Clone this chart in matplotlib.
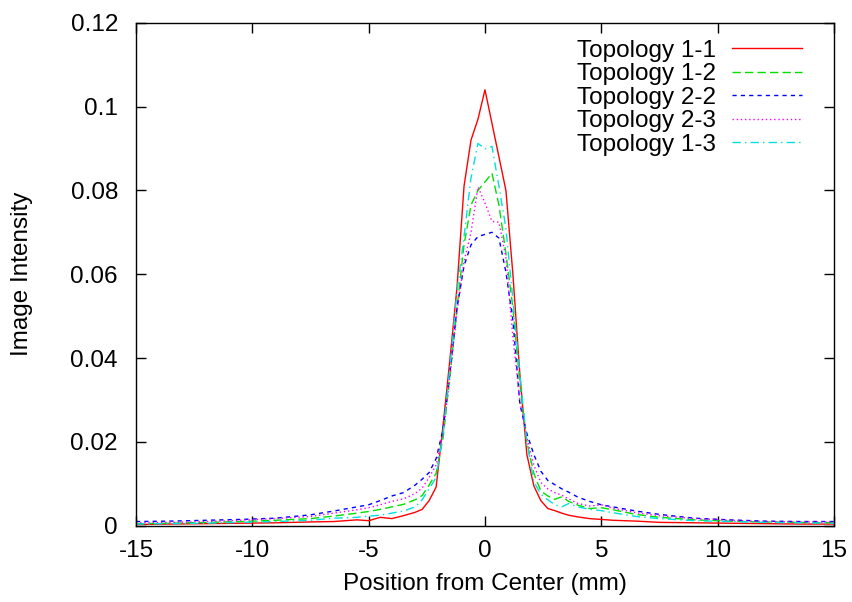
import matplotlib
matplotlib.use("Agg")
import matplotlib.pyplot as plt
from matplotlib.ticker import FormatStrFormatter

# position from center (mm), shared by all curves
pos = [-15, -13.5, -12, -10.5, -9, -7.5, -6.5, -5.5, -5, -4.5, -4, -3.5, -3,
       -2.7, -2.4, -2.1, -1.8, -1.5, -1.2, -0.9, -0.6, -0.3, 0, 0.3, 0.6, 0.9,
       1.2, 1.5, 1.8, 2.1, 2.4, 2.7, 3, 3.3, 3.6, 4, 4.5, 5, 5.5, 6.5, 7.5, 9,
       10.5, 12, 13.5, 15]

topo_11 = [0.0003, 0.0004, 0.0005, 0.0006, 0.0007, 0.0009, 0.0010, 0.0014, 0.0012,
           0.0020, 0.0017, 0.0024, 0.0032, 0.0039, 0.0060, 0.0092, 0.0240, 0.0400,
           0.0570, 0.0810, 0.0920, 0.0970, 0.1040, 0.0960, 0.0880, 0.0800, 0.0600,
           0.0360, 0.0170, 0.0095, 0.0060, 0.0041, 0.0036, 0.0030, 0.0025, 0.0021,
           0.0017, 0.0015, 0.0013, 0.0011, 0.0008, 0.0007, 0.0006, 0.0005, 0.0004,
           0.0004]
topo_12 = [0.0005, 0.0006, 0.0008, 0.0010, 0.0013, 0.0017, 0.0023, 0.0030, 0.0034,
           0.0039, 0.0045, 0.0051, 0.0062, 0.0072, 0.0097, 0.0125, 0.0210, 0.0360,
           0.0520, 0.0670, 0.0765, 0.0800, 0.0820, 0.0841, 0.0765, 0.0650, 0.0520,
           0.0340, 0.0200, 0.0125, 0.0083, 0.0071, 0.0063, 0.0069, 0.0058, 0.0049,
           0.0041, 0.0043, 0.0038, 0.0027, 0.0020, 0.0014, 0.0011, 0.0009, 0.0008,
           0.0007]
topo_22 = [0.0010, 0.0011, 0.0013, 0.0015, 0.0018, 0.0026, 0.0035, 0.0045, 0.0050,
           0.0060, 0.0071, 0.0079, 0.0097, 0.0111, 0.0127, 0.0160, 0.0230, 0.0370,
           0.0520, 0.0620, 0.0670, 0.0690, 0.0695, 0.0700, 0.0686, 0.0605, 0.0490,
           0.0290, 0.0220, 0.0170, 0.0130, 0.0108, 0.0098, 0.0088, 0.0080, 0.0068,
           0.0058, 0.0050, 0.0045, 0.0035, 0.0027, 0.0018, 0.0014, 0.0011, 0.0010,
           0.0010]
topo_23 = [0.0007, 0.0008, 0.0010, 0.0013, 0.0017, 0.0022, 0.0030, 0.0038, 0.0043,
           0.0050, 0.0058, 0.0064, 0.0077, 0.0090, 0.0115, 0.0145, 0.0220, 0.0360,
           0.0510, 0.0630, 0.0700, 0.0808, 0.0770, 0.0726, 0.0724, 0.0640, 0.0450,
           0.0300, 0.0210, 0.0145, 0.0103, 0.0088, 0.0079, 0.0073, 0.0064, 0.0053,
           0.0047, 0.0050, 0.0042, 0.0031, 0.0024, 0.0017, 0.0013, 0.0010, 0.0009,
           0.0009]
topo_13 = [0.0004, 0.0005, 0.0006, 0.0008, 0.0010, 0.0013, 0.0018, 0.0020, 0.0023,
           0.0025, 0.0030, 0.0035, 0.0045, 0.0062, 0.0088, 0.0115, 0.0220, 0.0380,
           0.0560, 0.0690, 0.0830, 0.0912, 0.0899, 0.0905, 0.0810, 0.0710, 0.0540,
           0.0360, 0.0200, 0.0105, 0.0075, 0.0062, 0.0050, 0.0045, 0.0053, 0.0045,
           0.0039, 0.0036, 0.0031, 0.0022, 0.0017, 0.0012, 0.0010, 0.0008, 0.0007,
           0.0006]

plt.rcParams['font.family'] = ['Liberation Sans', 'DejaVu Sans']
plt.rcParams['axes.unicode_minus'] = False

fig = plt.figure(figsize=(8.53, 6.02), dpi=100)
ax = fig.add_axes([0.1594, 0.1267, 0.8183, 0.8356])

ax.plot(pos, topo_11, color='#ff0000', lw=1.0, label='Topology 1-1')
ax.plot(pos, topo_12, color='#00e000', lw=1.0, dashes=(6, 3), label='Topology 1-2')
ax.plot(pos, topo_22, color='#0000ff', lw=1.0, dashes=(3, 3), label='Topology 2-2')
ax.plot(pos, topo_23, color='#ff00ff', lw=1.0, dashes=(1, 2), label='Topology 2-3')
ax.plot(pos, topo_13, color='#00e0e0', lw=1.0, dashes=(6, 3, 1, 3), label='Topology 1-3')

ax.set_xlim(-15, 15)
ax.set_ylim(0, 0.12)
ax.set_xticks(range(-15, 16, 5))
ax.set_yticks([0, 0.02, 0.04, 0.06, 0.08, 0.1, 0.12])
ax.yaxis.set_major_formatter(FormatStrFormatter('%g'))
ax.tick_params(direction='in', length=7, width=1, top=True, right=True,
               labelsize=17.5)
ax.tick_params(axis='y', pad=13)
ax.tick_params(axis='x', pad=10)
for s in ax.spines.values():
    s.set_linewidth(1.0)

ax.set_xlabel('Position from Center (mm)', fontsize=17.5, labelpad=8)
ax.set_ylabel('Image Intensity', fontsize=17.5, labelpad=27)

ax.legend(loc='upper right', bbox_to_anchor=(0.979, 1.0), frameon=False,
          markerfirst=False, fontsize=17.5, handlelength=2.88, handletextpad=0.66,
          labelspacing=0.06, borderpad=0.2)

fig.savefig('out.png', dpi=100)
